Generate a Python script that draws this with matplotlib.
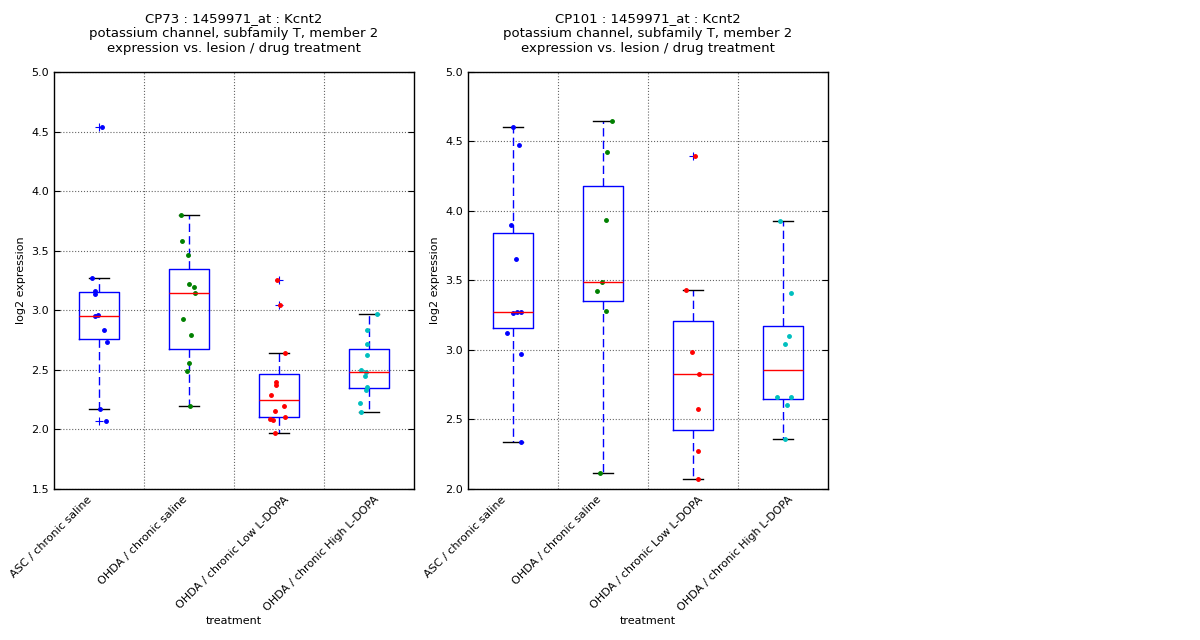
import numpy as np
import matplotlib
matplotlib.use("Agg")
import matplotlib.pyplot as plt
import matplotlib.transforms as mtransforms

groups = ["ASC / chronic saline", "OHDA / chronic saline",
          "OHDA / chronic Low L-DOPA", "OHDA / chronic High L-DOPA"]
colors = ["b", "g", "r", "c"]

# CP73 values (log2 expression) and jittered x positions
cp73_asc = [4.54, 3.27, 3.16, 3.14, 2.96, 2.95, 2.83, 2.73, 2.17, 2.07]
cp73_asc_x = [1.033, 0.922, 0.952, 0.952, 0.985, 0.952, 1.052, 1.085, 1.007, 1.074]
cp73_sal = [3.80, 3.584, 3.467, 3.224, 3.198, 3.148, 2.929, 2.795, 2.560, 2.493, 2.199]
cp73_sal_x = [1.908, 1.919, 1.985, 1.996, 2.052, 2.063, 1.930, 2.019, 1.996, 1.974, 2.007]
cp73_low = [3.254, 3.044, 2.641, 2.401, 2.375, 2.29, 2.20, 2.157, 2.107, 2.090, 2.079, 1.973]
cp73_low_x = [2.978, 3.007, 3.063, 2.963, 2.963, 2.907, 3.052, 2.952, 3.063, 2.896, 2.933, 2.952]
cp73_high = [2.970, 2.837, 2.719, 2.627, 2.501, 2.482, 2.451, 2.359, 2.334, 2.225, 2.149]
cp73_high_x = [4.085, 3.974, 3.974, 3.974, 3.908, 3.963, 3.952, 3.974, 3.963, 3.897, 3.908]

# CP101 values
cp101_asc = [4.607, 4.477, 3.902, 3.657, 3.268, 3.272, 3.276, 3.125, 2.974, 2.336]
cp101_asc_x = [0.996, 1.063, 0.974, 1.030, 0.996, 1.041, 1.085, 0.930, 1.085, 1.085]
cp101_sal = [4.647, 4.427, 3.937, 3.491, 3.427, 3.278, 2.117]
cp101_sal_x = [2.097, 2.041, 2.030, 1.986, 1.930, 2.030, 1.963]
cp101_low = [4.395, 3.434, 2.988, 2.830, 2.578, 2.276, 2.075]
cp101_low_x = [3.019, 2.919, 2.985, 3.063, 3.052, 3.052, 3.052]
cp101_high = [3.930, 3.407, 3.098, 3.041, 2.665, 2.665, 2.605, 2.358]
cp101_high_x = [3.963, 4.085, 4.063, 4.019, 3.930, 4.085, 4.041, 4.019]

panels = [
    ("CP73", [cp73_asc, cp73_sal, cp73_low, cp73_high],
     [cp73_asc_x, cp73_sal_x, cp73_low_x, cp73_high_x], (1.5, 5.0), [0.045, 0.236, 0.3, 0.6516]),
    ("CP101", [cp101_asc, cp101_sal, cp101_low, cp101_high],
     [cp101_asc_x, cp101_sal_x, cp101_low_x, cp101_high_x], (2.0, 5.0), [0.39, 0.236, 0.3, 0.6516]),
]

# small horizontal nudges (pixels) of the rotated category labels
label_dx = [-5, 0, 12, 12]

fig = plt.figure(figsize=(12, 6.4), dpi=100)

for name, vals, xs, ylim, rect in panels:
    ax = fig.add_axes(rect)
    ax.boxplot(vals, positions=[1, 2, 3, 4], widths=0.45,
               boxprops=dict(color="b", linewidth=1),
               medianprops=dict(color="r", linewidth=1),
               whiskerprops=dict(color="b", linestyle=(0, (6, 3)), linewidth=1),
               capprops=dict(color="k", linewidth=1),
               flierprops=dict(marker="+", markeredgecolor="b", markersize=6,
                               markeredgewidth=0.8, linestyle="none"))
    for v, x, c in zip(vals, xs, colors):
        ax.plot(x, v, ".", color=c, markersize=5, linestyle="none")
    ax.set_xlim(0.5, 4.5)
    ax.set_ylim(*ylim)
    ax.set_xticks([1, 2, 3, 4])
    ax.set_xticks([1.5, 2.5, 3.5], minor=True)
    ax.set_xticklabels([])
    base = ax.get_xaxis_transform()
    for i, (lab, dx) in enumerate(zip(groups, label_dx)):
        tr = base + mtransforms.ScaledTranslation(dx / 100, -5.5 / 100, fig.dpi_scale_trans)
        ax.text(i + 1, 0, lab, transform=tr, rotation=45, ha="right", va="top", fontsize=8)
    ax.tick_params(axis="y", labelsize=8, direction="in", left=True, right=True, length=4)
    ax.tick_params(axis="x", which="both", length=0)
    ax.grid(False)
    ax.yaxis.grid(True, linestyle=":", color="0.4", linewidth=0.8)
    ax.xaxis.grid(True, which="minor", linestyle=":", color="0.4", linewidth=0.8)
    ax.set_xlabel("treatment", fontsize=8)
    ax.xaxis.set_label_coords(0.5, -0.305)
    ax.set_ylabel("log2 expression", fontsize=8)
    ax.set_title(name + " : 1459971_at : Kcnt2\npotassium channel, subfamily T, member 2\n"
                 "expression vs. lesion / drug treatment", fontsize=9.5, pad=14)
    for s in ax.spines.values():
        s.set_linewidth(1)

fig.savefig("out.png", dpi=100)
